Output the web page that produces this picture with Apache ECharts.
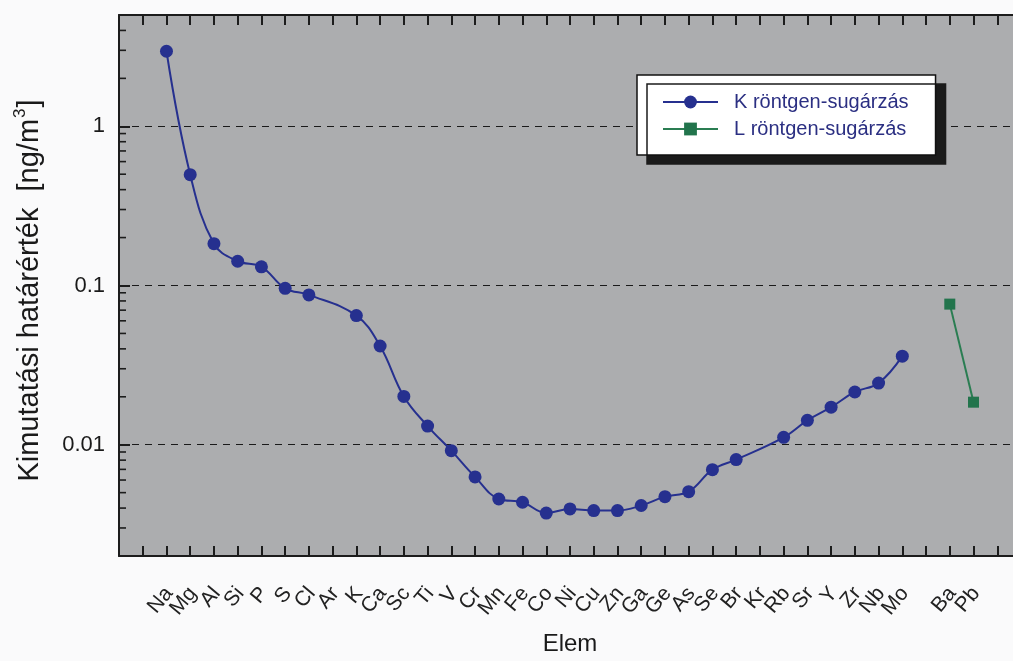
<!DOCTYPE html>
<html>
<head>
<meta charset="utf-8">
<script src="https://cdn.jsdelivr.net/npm/echarts@6/dist/echarts.min.js"></script>
<style>
  html, body { margin: 0; padding: 0; background: #fafafb; overflow: hidden; }
  /* the plot frame continues past the right edge of the window */
  #chart { width: 1030px; height: 661px; }
</style>
</head>
<body>
<div id="chart"></div>
<script>
// Detection limits (ng/m³) per element, K-line and L-line excitation
const kElements = ['Na','Mg','Al','Si','P','S','Cl','Ar','K','Ca','Sc','Ti','V','Cr','Mn','Fe',
                   'Co','Ni','Cu','Zn','Ga','Ge','As','Se','Br','Kr','Rb','Sr','Y','Zr','Nb','Mo'];
const kValues = [2.96, 0.497, 0.183, 0.142, 0.131, 0.096, 0.0873, null, 0.0647, 0.0417, 0.0201,
                 0.0131, 0.00918, 0.00628, 0.00456, 0.00435, 0.00372, 0.00395, 0.00386, 0.00386,
                 0.00415, 0.00472, 0.00507, 0.00697, 0.00807, null, 0.01112, 0.01423, 0.01722,
                 0.02144, 0.02438, 0.0360];
const lElements = ['Ba','Pb'];
const lValues = [0.0764, 0.0185];
const yTickLabels = ['0.01', '0.1', '1'];

const seriesNames = ['K röntgen-sugárzás', 'L röntgen-sugárzás'];
const FONT = '"Liberation Sans", Arial, Helvetica, sans-serif';

// Category slots: two empty slots before Na, one gap before Ba, two after Pb
const lead = 2;
const slots = ['', ''].concat(kElements, [''], lElements, ['', '']);
const kData = kElements.map((e, i) => [lead + i, kValues[i]]).filter(d => d[1] !== null);
const lStart = lead + kElements.length + 1;
const lData = lElements.map((e, i) => [lStart + i, lValues[i]]);

// Minor ticks of the log axis at 2..9 × each decade inside the range
const yMin = 0.002, yMax = 5;
const minorTicks = [];
for (let d = -3; d <= 0; d++) {
  for (let m = 2; m <= 9; m++) {
    const v = +(m * Math.pow(10, d)).toPrecision(3);
    if (v > yMin && v < yMax) minorTicks.push([0, v]);
  }
}

const chart = echarts.init(document.getElementById('chart'), null, { renderer: 'canvas' });

const axisLineStyle = { color: '#1c1c1c', width: 2 };

chart.setOption({
  animation: false,
  backgroundColor: '#fafafb',
  textStyle: { fontFamily: FONT },
  grid: {
    left: 119, top: 15, right: 9, bottom: 99,
    show: true, backgroundColor: '#acadaf', borderWidth: 0
  },
  legend: {
    orient: 'vertical',
    left: 637, top: 75,
    data: seriesNames,
    backgroundColor: '#ffffff',
    borderColor: '#111111',
    borderWidth: 1.5,
    borderRadius: 0,
    shadowColor: '#1b1b1b',
    shadowBlur: 0,
    shadowOffsetX: 10,
    shadowOffsetY: 9,
    padding: [17, 27, 16, 25],
    itemWidth: 55,
    itemHeight: 16,
    itemGap: 7,
    selectedMode: false,
    textStyle: { fontSize: 20, color: '#2b2f82', fontFamily: FONT, padding: [0, 0, 0, 11] }
  },
  xAxis: [
    {
      type: 'category',
      data: slots,
      boundaryGap: false,
      position: 'bottom',
      axisLine: { lineStyle: axisLineStyle },
      axisTick: { inside: true, length: 10, interval: 0, lineStyle: { color: '#1c1c1c', width: 2 } },
      axisLabel: {
        interval: 0, rotate: 50, margin: 37,
        padding: [0, -4, 0, 0],
        fontSize: 21, color: '#222', fontFamily: FONT
      },
      splitLine: { show: false },
      name: 'Elem',
      nameLocation: 'middle',
      nameGap: 76,
      nameTextStyle: { fontSize: 24, color: '#1a1a1a', fontFamily: FONT }
    },
    {
      type: 'category',
      data: slots,
      boundaryGap: false,
      position: 'top',
      axisLine: { lineStyle: axisLineStyle },
      axisTick: { inside: true, length: 10, interval: 0, lineStyle: { color: '#1c1c1c', width: 2 } },
      axisLabel: { show: false },
      splitLine: { show: false }
    }
  ],
  yAxis: {
    type: 'log',
    logBase: 10,
    min: yMin,
    max: yMax,
    axisLine: { show: true, lineStyle: axisLineStyle },
    axisTick: { show: true, inside: true, length: 11, lineStyle: { color: '#1c1c1c', width: 2 } },
    axisLabel: {
      margin: 14, fontSize: 22, color: '#1a1a1a', fontFamily: FONT,
      formatter: v => {
        const s = String(+v.toPrecision(6));
        return yTickLabels.indexOf(s) >= 0 ? s : '';
      }
    },
    splitLine: {
      show: true, showMinLine: false, showMaxLine: false,
      lineStyle: { color: '#1a1a1a', type: [7, 6], width: 1.2 }
    },
    name: '{a|Kimutatási határérték  [ng/m}{s|3}{a|]}',
    nameLocation: 'middle',
    nameGap: 75,
    nameTextStyle: {
      padding: [0, 10, 0, 0],
      rich: {
        a: { fontSize: 29, color: '#1a1a1a', fontFamily: FONT, lineHeight: 32, verticalAlign: 'bottom' },
        s: { fontSize: 17, color: '#1a1a1a', fontFamily: FONT, lineHeight: 32, verticalAlign: 'top', padding: [0, 1, 13, 1] }
      }
    }
  },
  series: [
    {
      name: seriesNames[0],
      type: 'line',
      data: kData,
      smooth: 0.4,
      symbol: 'circle',
      symbolSize: 13,
      itemStyle: { color: '#26308f' },
      lineStyle: { color: '#26308f', width: 2 },
      z: 3
    },
    {
      name: seriesNames[1],
      type: 'line',
      data: lData,
      symbol: 'rect',
      symbolSize: 11,
      itemStyle: { color: '#22744c' },
      lineStyle: { color: '#2a7d52', width: 2 },
      z: 3
    },
    {
      name: 'minor-ticks',
      type: 'custom',
      silent: true,
      data: minorTicks,
      z: 4,
      renderItem: (params, api) => {
        const p = api.coord([api.value(0), api.value(1)]);
        return {
          type: 'line',
          shape: { x1: p[0], y1: p[1], x2: p[0] + 7, y2: p[1] },
          style: { stroke: '#1c1c1c', lineWidth: 1.6 }
        };
      }
    }
  ]
});
</script>
</body>
</html>
